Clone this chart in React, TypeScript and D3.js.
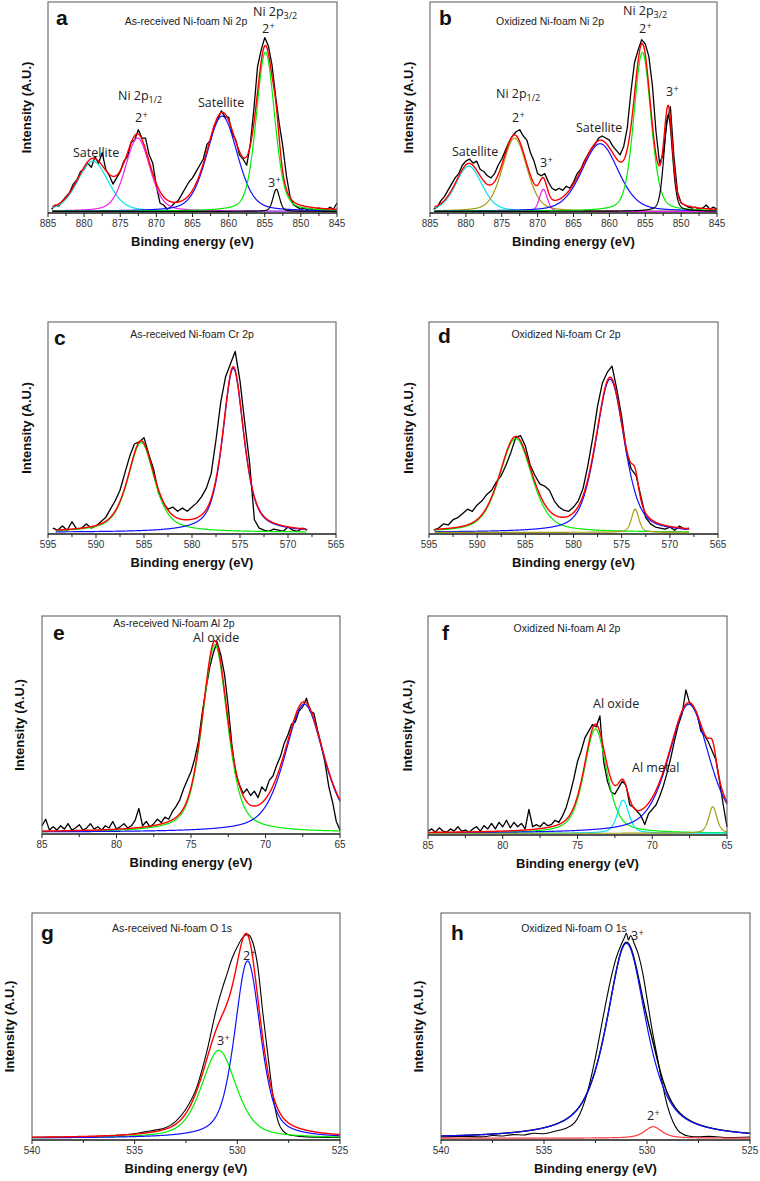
import React, { useEffect, useRef } from 'react';
import * as d3 from 'd3';

// Intensities are arbitrary units: 0 sits on the energy axis, 100 at the top of each frame.
// Raw spectra on a uniform grid are stored as first energy + values, 0.5 eV apart (0.25 eV for Al 2p).

// a: as-received Ni 2p
const aRawStart = 884.5;
const aRaw = [
  1, 3, 2.5, 5, 7, 9, 13, 15, 19, 20,
  23, 21, 26, 23, 28, 20, 17, 13, 16, 19,
  24, 26, 33, 34, 39, 35, 35, 27, 23, 12,
  4, 3, 1, 2, 4, 5, 8, 11, 14, 16,
  19, 22, 25, 32, 34, 41, 44, 48, 45, 45,
  37, 34, 27, 25, 22, 32, 49, 69, 77, 83,
  79, 70, 55, 42, 31, 17, 7, 3, 2, 1,
  1.5, 0.5, 1, 0.5, 1.5, 1, 0.5, 2, 1, 4,
];
const aCenters = [878.8, 872.6, 860.9, 854.9, 853.4];
const aHeights = [24, 35, 45.5, 76, 10.5];
const aFwhm = [5.0, 4.0, 5.0, 3.0, 1.1];
const aMix = 0.3;

// b: oxidized Ni 2p
const bRawStart = 884.5;
const bRaw = [
  1, 2, 5, 7, 10, 13, 16, 18, 22, 24,
  25, 23, 24, 20, 19, 17, 16, 18, 22, 25,
  29, 33, 36, 38, 39, 36, 34, 28, 24, 18,
  17, 18, 14, 11, 10, 11, 10, 12, 11, 14,
  18, 20, 24, 27, 30, 32, 35, 36, 35, 34,
  31, 29, 27, 31, 40, 57, 71, 77, 82, 80,
  74, 60, 38, 23, 27, 42, 50, 26, 9, 4,
  3, 2, 1.5, 2, 1, 1.5, 3, 1, 2, 1,
];
const bCenters = [879.6, 873.2, 869.2, 861.3, 855.4, 851.8];
const bHeights = [21.6, 35, 10.5, 32.3, 76, 46];
const bFwhm = [4.3, 4.0, 1.3, 6.0, 2.8, 1.4];
const bMix = 0.3;

// c: as-received Cr 2p
const cRawStart = 594.5;
const cRaw = [
  2, 1, 3, 1, 5, 1.5, 2, 4, 2, 3,
  5, 7, 11, 15, 20, 28, 36, 42, 43, 45,
  37, 30, 19, 14, 11, 12, 10, 11.5, 10, 12,
  14, 17, 21, 28, 44, 62, 74, 80, 86, 72,
  52, 33, 6, 2, 1, 0.5, 1.5, 1, 0.5, 2.5,
  1, 0.5, 2, 1,
];
const cCenters = [585.3, 575.7];
const cHeights = [42.7, 78];
const cFwhm = [3.3, 2.6];
const cMix = 0.6;

// d: oxidized Cr 2p
const dRawStart = 594.5;
const dRaw = [
  1, 2, 4, 3.5, 6, 7, 9, 11, 10, 13,
  15, 18, 20, 24, 27, 32, 38, 45, 46, 41,
  32, 27, 23, 22, 20, 15, 12, 10.5, 10, 12,
  15, 21, 32, 45, 60, 71, 76, 79, 68, 55,
  38, 30, 27, 17, 7, 4, 2.5, 2, 1.5, 2.5,
  1, 3, 1.5, 2,
];
const dCenters = [586.0, 576.2, 573.6];
const dHeights = [44.6, 72.8, 11];
const dFwhm = [4.0, 3.5, 0.9];
const dMix = 0.45;

// e: as-received Al 2p
const eRawStart = 85;
const eRaw = [
  3, 6, 1, 2.5, 1, 3, 1.5, 4, 1, 2, 3.5, 1, 2, 4, 1.5, 2.5, 1, 3, 2, 5,
  1.5, 2.5, 4, 2, 3, 5.5, 11, 3, 5, 2.5, 4, 6, 4.5, 7, 6, 9.5, 12, 15, 20, 24,
  28, 34, 42, 55, 66, 76, 83, 88, 82, 73, 58, 40, 27, 22, 18, 20, 17, 19, 16, 21,
  19, 24, 26, 31, 35, 41, 45, 50, 51, 56, 58, 62, 56, 55, 47, 40, 32, 21, 14, 5,
  1,
];
const eCenters = [73.4, 67.4];
const eHeights = [86.7, 59.2];
const eFwhm = [2.0, 3.1];
const eMix = 0.5;

// f: oxidized Al 2p
const fRawStart = 85;
const fRaw = [
  1, 2, 0.5, 2.5, 1, 0.5, 2, 1, 3, 1, 1.5, 0.5, 2, 3, 1, 3.5, 2, 4.5, 2, 5,
  3, 6, 2.5, 5, 3, 4.5, 2, 11, 3, 4, 3, 5, 3.5, 4, 6, 5, 8, 12, 18, 25,
  33, 38, 44, 47, 50, 49, 54, 33, 24, 19, 18, 21, 24, 22, 13, 12, 10, 8, 4, 9,
  11, 13, 17, 22, 28, 35, 43, 50, 55, 66, 60, 58, 55, 47, 45, 42, 38, 34, 24, 13,
  3,
];
const fCenters = [73.8, 71.95, 67.55, 65.95];
const fHeights = [48, 15.2, 59.4, 12.2];
const fFwhm = [1.8, 0.9, 3.2, 0.65];
const fMix = 0.5;

// g: as-received O 1s (smooth raw trace, energies listed explicitly)
const gRawEv = [540, 538, 536, 535, 534.5, 534, 533.5, 533, 532.5, 532, 531.5, 531, 530.75, 530.5, 530.25,
  530, 529.75, 529.5, 529.25, 529, 528.75, 528.5, 528.25, 528, 527.75, 527.5, 527, 526, 525];
const gRawI = [0.4, 0.6, 1.2, 2.0, 2.8, 3.6, 4.6, 7.5, 13, 22, 38, 58, 66, 73, 80,
  85, 89, 90.5, 87, 76, 55, 36, 18, 7, 3, 1.5, 0.8, 0.4, 0.3];
const gCenters = [530.9, 529.5];
const gHeights = [39, 78.7];
const gFwhm = [2.0, 1.5];
const gMix = 0.5;

// h: oxidized O 1s
const hRawEv = [540, 539, 538, 537.5, 537, 536.5, 536, 535.5, 535, 534.5, 534, 533.5, 533, 532.5, 532.25, 532,
  531.75, 531.5, 531.25, 531.1, 531, 530.9, 530.8, 530.6, 530.4, 530.2, 530, 529.75, 529.5, 529.25, 529,
  528.75, 528.5, 528.25, 528, 527.5, 527, 526, 525];
const hRawI = [0.5, 0.8, 0.6, 1.2, 1.0, 1.6, 1.4, 2.2, 2.0, 3.0, 4.2, 7, 17, 36, 48, 60,
  71, 80, 86, 89, 91, 88, 90, 86, 81, 73, 62, 48, 36, 24, 14,
  7.5, 3.5, 1.8, 1.0, 0.6, 0.8, 0.3, 0.5];
const hCenters = [531.0, 529.7];
const hHeights = [86.5, 5.1];
const hFwhm = [2.3, 1.0];
const hMix = 0.7;

const RED = '#ff0000';
const GREEN = '#00ee00';
const BLUE = '#1010ff';
const CYAN = '#00e6ee';
const MAGENTA = '#f020f0';
const OLIVE = '#a39c14';
const BLACK = '#000000';

const SANS = '"Liberation Sans", Arial, sans-serif';
const NOTE_FONT = '"Open Sans", "Noto Sans", sans-serif';

const onGrid = (start, step, values) => values.map((v, i) => [start + step * i, v]);
const zipped = (ev, vals) => ev.map((e, i) => [e, vals[i]]);

const sup = (s) => [s, 'sup'];
const sub = (s) => [s, 'sub'];
const plain = (s) => [s, ''];

const panels = [
  {
    letter: 'a', title: 'As-received Ni-foam Ni 2p', titleX: 186, titleY: 25, letterX: 56, letterY: 25,
    left: 48, right: 337, top: 2, bottom: 213, yLabelX: 26, domain: [885, 845], fit: [884.4, 845],
    raw: onGrid(aRawStart, -0.5, aRaw), centers: aCenters, heights: aHeights, fwhm: aFwhm, mix: aMix,
    colors: [CYAN, MAGENTA, BLUE, GREEN, BLACK], sumColor: RED, sumOnTop: true,
    notes: [
      { x: 253, y: 16, parts: [plain('Ni 2p'), sub('3/2')] },
      { x: 262, y: 33, parts: [plain('2'), sup('+')] },
      { x: 118, y: 100, parts: [plain('Ni 2p'), sub('1/2')] },
      { x: 135, y: 122, parts: [plain('2'), sup('+')] },
      { x: 198, y: 107, parts: [plain('Satellite')] },
      { x: 73, y: 157, parts: [plain('Satellite')] },
      { x: 268, y: 187, parts: [plain('3'), sup('+')] },
    ],
  },
  {
    letter: 'b', title: 'Oxidized Ni-foam Ni 2p', titleX: 550, titleY: 25, letterX: 439, letterY: 25,
    left: 430, right: 717, top: 2, bottom: 213, yLabelX: 408, domain: [885, 845], fit: [884.4, 845],
    raw: onGrid(bRawStart, -0.5, bRaw), centers: bCenters, heights: bHeights, fwhm: bFwhm, mix: bMix,
    colors: [CYAN, OLIVE, MAGENTA, BLUE, GREEN, BLACK], sumColor: RED, sumOnTop: true,
    notes: [
      { x: 623, y: 15, parts: [plain('Ni 2p'), sub('3/2')] },
      { x: 639, y: 33, parts: [plain('2'), sup('+')] },
      { x: 666, y: 96, parts: [plain('3'), sup('+')] },
      { x: 496, y: 98, parts: [plain('Ni 2p'), sub('1/2')] },
      { x: 512, y: 122, parts: [plain('2'), sup('+')] },
      { x: 576, y: 132, parts: [plain('Satellite')] },
      { x: 452, y: 156, parts: [plain('Satellite')] },
      { x: 540, y: 167, parts: [plain('3'), sup('+')] },
    ],
  },
  {
    letter: 'c', title: 'As-received Ni-foam Cr 2p', titleX: 192, titleY: 338, letterX: 54, letterY: 345,
    left: 48, right: 336, top: 322, bottom: 534, yLabelX: 26, domain: [595, 565], fit: [594.2, 568.1],
    raw: onGrid(cRawStart, -0.5, cRaw), centers: cCenters, heights: cHeights, fwhm: cFwhm, mix: cMix,
    colors: [GREEN, BLUE], sumColor: RED, sumOnTop: true, notes: [],
  },
  {
    letter: 'd', title: 'Oxidized Ni-foam Cr 2p', titleX: 566, titleY: 338, letterX: 438, letterY: 343,
    left: 429, right: 718, top: 322, bottom: 534, yLabelX: 408, domain: [595, 565], fit: [594.4, 568],
    raw: onGrid(dRawStart, -0.5, dRaw), centers: dCenters, heights: dHeights, fwhm: dFwhm, mix: dMix,
    colors: [GREEN, BLUE, OLIVE], sumColor: RED, sumOnTop: true, notes: [],
  },
  {
    letter: 'e', title: 'As-received Ni-foam Al 2p', titleX: 174, titleY: 627, letterX: 53, letterY: 640,
    left: 42, right: 340, top: 616, bottom: 834, yLabelX: 19, domain: [85, 65], fit: [85, 65],
    raw: onGrid(eRawStart, -0.25, eRaw), centers: eCenters, heights: eHeights, fwhm: eFwhm, mix: eMix,
    colors: [GREEN, BLUE], sumColor: RED, sumOnTop: true,
    notes: [{ x: 193, y: 642, parts: [plain('Al oxide')] }],
  },
  {
    letter: 'f', title: 'Oxidized Ni-foam Al 2p', titleX: 567, titleY: 632, letterX: 442, letterY: 640,
    left: 428, right: 727, top: 616, bottom: 835, yLabelX: 407, domain: [85, 65], fit: [85, 65],
    raw: onGrid(fRawStart, -0.25, fRaw), centers: fCenters, heights: fHeights, fwhm: fFwhm, mix: fMix,
    colors: [GREEN, CYAN, BLUE, OLIVE], sumColor: RED, sumOnTop: true,
    notes: [
      { x: 593, y: 708, parts: [plain('Al oxide')] },
      { x: 632, y: 772, parts: [plain('Al metal')] },
    ],
  },
  {
    letter: 'g', title: 'As-received Ni-foam O 1s', titleX: 172, titleY: 932, letterX: 41, letterY: 940,
    left: 32, right: 340, top: 913, bottom: 1140, yLabelX: 9, domain: [540, 525], fit: [540, 525],
    raw: zipped(gRawEv, gRawI), smoothRaw: true, centers: gCenters, heights: gHeights, fwhm: gFwhm, mix: gMix,
    colors: [GREEN, BLUE], sumColor: RED, sumOnTop: true,
    notes: [
      { x: 243, y: 960, parts: [plain('2'), sup('+')] },
      { x: 217, y: 1045, parts: [plain('3'), sup('+')] },
    ],
  },
  {
    letter: 'h', title: 'Oxidized Ni-foam O 1s', titleX: 574, titleY: 932, letterX: 451, letterY: 940,
    left: 441, right: 750, top: 913, bottom: 1140, yLabelX: 418, domain: [540, 525], fit: [540, 525],
    raw: zipped(hRawEv, hRawI), smoothRaw: true, centers: hCenters, heights: hHeights, fwhm: hFwhm, mix: hMix,
    colors: [BLUE, '#ff3b3b'], sumColor: BLACK, sumOnTop: false,
    notes: [
      { x: 631, y: 940, parts: [plain('3'), sup('+')] },
      { x: 647, y: 1120, parts: [plain('2'), sup('+')] },
    ],
  },
];

// Gaussian–Lorentzian mix used for every fitted component
const pseudoVoigt = (e, center, height, fwhm, mix) => {
  const u = (e - center) / fwhm;
  const lor = 1 / (1 + 4 * u * u);
  const gau = Math.exp(-4 * Math.LN2 * u * u);
  return height * (mix * lor + (1 - mix) * gau);
};

const drawPanel = (svg, p) => {
  const x = d3.scaleLinear().domain(p.domain).range([p.left, p.right]);
  const y = d3.scaleLinear().domain([-0.8, 100]).range([p.bottom, p.top]);
  const g = svg.append('g');

  const line = d3.line().x(d => x(d[0])).y(d => y(d[1]));
  const smooth = d3.line().x(d => x(d[0])).y(d => y(d[1])).curve(d3.curveMonotoneX);

  // evaluation grid for the fitted curves
  const [f0, f1] = p.fit;
  const step = (f1 - f0) / 1200;
  const grid = d3.range(0, 1201).map(i => f0 + step * i);
  const comps = p.centers.map((c, i) =>
    grid.map(e => [e, pseudoVoigt(e, c, p.heights[i], p.fwhm[i], p.mix)]));
  const total = grid.map((e, k) => [e, d3.sum(comps, cp => cp[k][1])]);

  // measured trace
  g.append('path')
    .attr('d', (p.smoothRaw ? smooth : line)(p.raw))
    .attr('fill', 'none')
    .attr('stroke', BLACK)
    .attr('stroke-width', p.smoothRaw ? 1.1 : 1.3)
    .attr('stroke-linejoin', 'round');

  const drawSum = () => g.append('path')
    .attr('d', line(total))
    .attr('fill', 'none')
    .attr('stroke', p.sumColor)
    .attr('stroke-width', 1.4);

  if (!p.sumOnTop) drawSum();

  comps.forEach((cp, i) => {
    g.append('path')
      .attr('d', line(cp))
      .attr('fill', 'none')
      .attr('stroke', p.colors[i])
      .attr('stroke-width', 1.2);
  });

  if (p.sumOnTop) drawSum();

  // frame: grey box, black energy axis
  g.append('rect')
    .attr('x', p.left).attr('y', p.top)
    .attr('width', p.right - p.left).attr('height', p.bottom - p.top)
    .attr('fill', 'none')
    .attr('stroke', '#555')
    .attr('stroke-width', 1);
  g.append('line')
    .attr('x1', p.left).attr('x2', p.right)
    .attr('y1', p.bottom).attr('y2', p.bottom)
    .attr('stroke', BLACK)
    .attr('stroke-width', 1.2);

  // ticks every 2.5 eV, labels every 5 eV
  const hi = p.domain[0];
  const lo = p.domain[1];
  const ticks = d3.range(0, Math.round((hi - lo) / 2.5) + 1).map(i => hi - 2.5 * i);
  g.selectAll('.tick')
    .data(ticks)
    .enter()
    .append('line')
    .attr('x1', d => x(d)).attr('x2', d => x(d))
    .attr('y1', p.bottom)
    .attr('y2', d => p.bottom + (d % 5 === 0 ? 4 : 3))
    .attr('stroke', '#222')
    .attr('stroke-width', 1);
  g.selectAll('.tick-label')
    .data(ticks.filter(d => d % 5 === 0))
    .enter()
    .append('text')
    .attr('x', d => x(d))
    .attr('y', p.bottom + 14)
    .attr('text-anchor', 'middle')
    .attr('font-family', SANS)
    .attr('font-size', 10)
    .attr('fill', '#333')
    .text(d => d);

  g.append('text')
    .attr('x', (p.left + p.right) / 2)
    .attr('y', p.bottom + 33)
    .attr('text-anchor', 'middle')
    .attr('font-family', SANS)
    .attr('font-weight', 'bold')
    .attr('font-size', 13)
    .attr('fill', '#111')
    .text('Binding energy (eV)');

  g.append('text')
    .attr('transform', `translate(${p.yLabelX},${(p.top + p.bottom) / 2}) rotate(-90)`)
    .attr('dy', '0.35em')
    .attr('text-anchor', 'middle')
    .attr('font-family', SANS)
    .attr('font-weight', 'bold')
    .attr('font-size', 13)
    .attr('fill', '#111')
    .text('Intensity (A.U.)');

  g.append('text')
    .attr('x', p.letterX)
    .attr('y', p.letterY)
    .attr('font-family', SANS)
    .attr('font-weight', 'bold')
    .attr('font-size', 21)
    .attr('fill', '#111')
    .text(p.letter);

  g.append('text')
    .attr('x', p.titleX)
    .attr('y', p.titleY)
    .attr('text-anchor', 'middle')
    .attr('font-family', SANS)
    .attr('font-size', 10.5)
    .attr('fill', '#222')
    .text(p.title);

  p.notes.forEach(n => {
    const t = g.append('text')
      .attr('x', n.x)
      .attr('y', n.y)
      .attr('font-family', NOTE_FONT)
      .attr('font-size', 12.5)
      .attr('fill', '#222');
    n.parts.forEach(([s, kind]) => {
      const ts = t.append('tspan').text(s);
      if (kind === 'sup') ts.attr('font-size', 8.5).attr('dy', -4.5).attr('dx', 0.5);
      if (kind === 'sub') ts.attr('font-size', 9).attr('dy', 2.5);
    });
  });
};

const App = () => {
  const svgRef = useRef(null);

  useEffect(() => {
    const svg = d3.select(svgRef.current);
    svg.selectAll('*').remove();
    svg.append('rect').attr('width', 760).attr('height', 1181).attr('fill', '#fff');
    panels.forEach(p => drawPanel(svg, p));
  }, []);

  return (
    <svg
      ref={svgRef}
      width={760}
      height={1181}
      style={{ position: 'absolute', left: 0, top: 0 }}
    />
  );
};

export default App;
